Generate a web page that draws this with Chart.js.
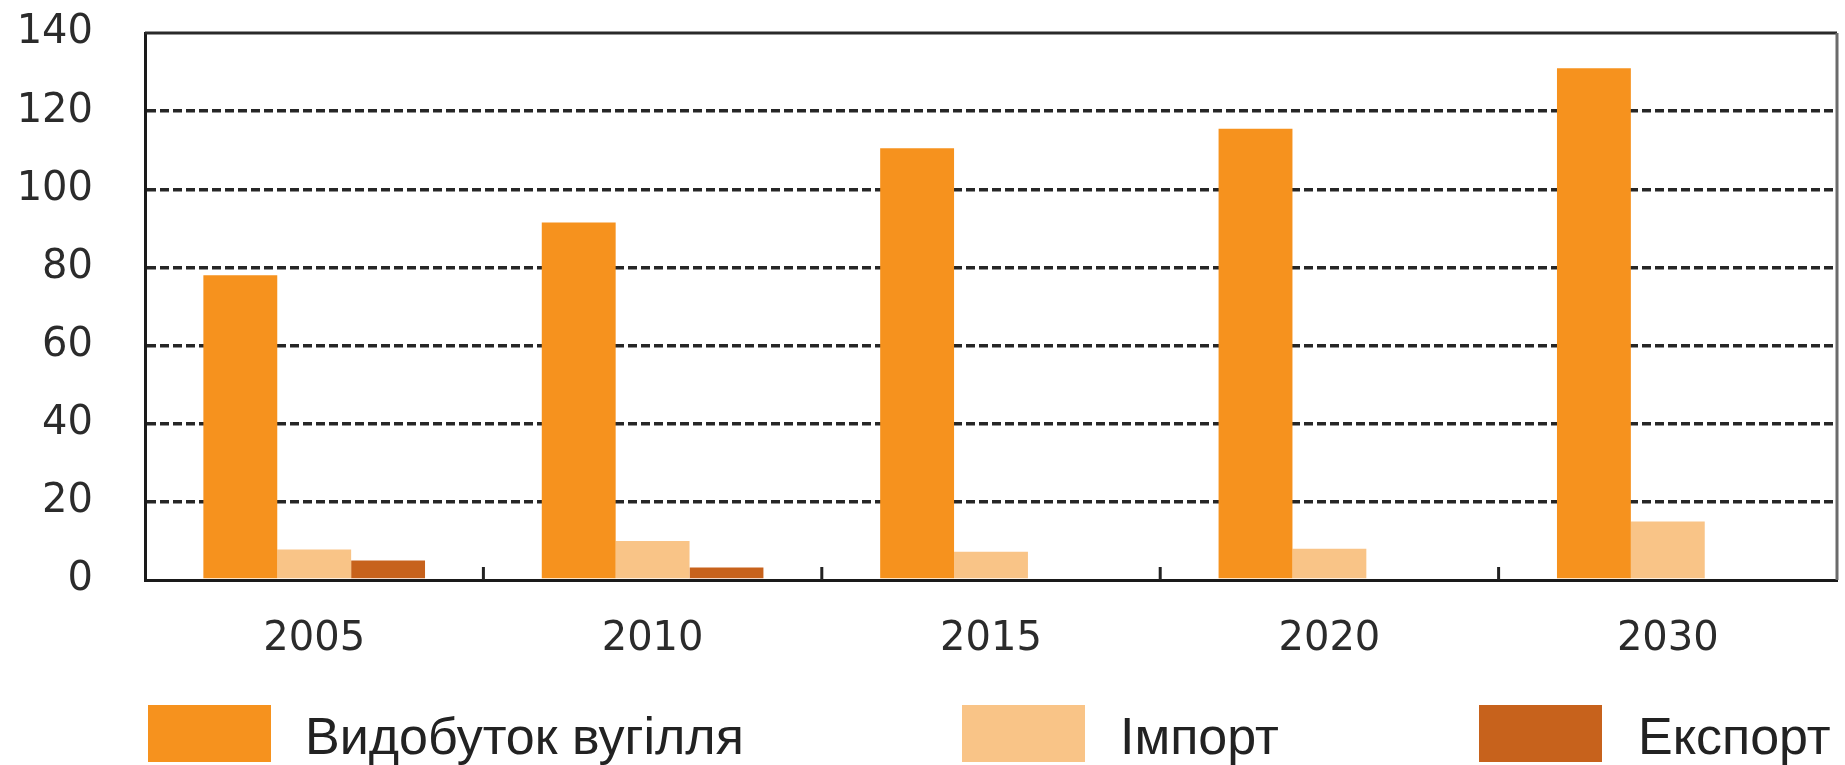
<!DOCTYPE html>
<html>
<head>
<meta charset="utf-8">
<script src="https://cdn.jsdelivr.net/npm/chart.js@4.4.1/dist/chart.umd.min.js"></script>
<style>
  html, body { margin: 0; padding: 0; background: #fff; }
  #wrap { position: relative; width: 1845px; height: 765px; }
  #legend { position: absolute; left: 0; top: 0; width: 1845px; height: 765px; pointer-events: none; }
  .box { position: absolute; top: 705px; width: 123px; height: 57px; }
  .lbl { position: absolute; top: 708px; font: 52px "Liberation Sans", Arial, sans-serif; line-height: 57px; color: #222; white-space: nowrap; }
</style>
</head>
<body>
<div id="wrap">
  <canvas id="coalChart" width="1845" height="765"></canvas>
  <div id="legend"></div>
</div>
<script>
"use strict";
const years = ["2005", "2010", "2015", "2020", "2030"];
const production = [78, 91.5, 110.5, 115.5, 131];
const imports = [7.8, 10, 7.2, 8, 15];
const exports = [5, 3.2, 0, 0, 0];
const seriesNames = ["Видобуток вугілля", "Імпорт", "Експорт"];
const seriesColors = ["#f6921e", "#f9c487", "#c7621c"];
const yTicks = [0, 20, 40, 60, 80, 100, 120, 140];

// legend drawn as html, positions picked to match the original
const legendSpots = [
  { box: 148, text: 305 },
  { box: 962, text: 1120 },
  { box: 1479, text: 1638 },
];
const legend = document.getElementById("legend");
seriesNames.forEach((name, i) => {
  const b = document.createElement("div");
  b.className = "box";
  b.style.left = legendSpots[i].box + "px";
  b.style.background = seriesColors[i];
  legend.appendChild(b);
  const t = document.createElement("div");
  t.className = "lbl";
  t.style.left = legendSpots[i].text + "px";
  t.textContent = name;
  legend.appendChild(t);
});

// frame top/right + little ticks between the year groups
const frameAndTicks = {
  id: "frameAndTicks",
  afterDatasetsDraw(chart) {
    const { ctx, chartArea: a, scales } = chart;
    ctx.save();
    ctx.lineWidth = 3;
    ctx.strokeStyle = "#2a2a2a";
    ctx.beginPath();
    ctx.moveTo(a.left, a.top);
    ctx.lineTo(a.right, a.top);
    ctx.stroke();
    ctx.strokeStyle = "#6b6b6b";
    ctx.beginPath();
    ctx.moveTo(a.right, a.top);
    ctx.lineTo(a.right, a.bottom);
    ctx.stroke();
    ctx.strokeStyle = "#222";
    for (let i = 1; i < years.length; i++) {
      const x = (scales.x.getPixelForValue(i - 1) + scales.x.getPixelForValue(i)) / 2;
      ctx.beginPath();
      ctx.moveTo(x, a.bottom);
      ctx.lineTo(x, a.bottom - 13);
      ctx.stroke();
    }
    ctx.restore();
  },
};

const data = {
  labels: years,
  datasets: [
    { label: seriesNames[0], data: production, backgroundColor: seriesColors[0] },
    { label: seriesNames[1], data: imports, backgroundColor: seriesColors[1] },
    { label: seriesNames[2], data: exports, backgroundColor: seriesColors[2] },
  ],
};

const config = {
  type: "bar",
  data: data,
  options: {
    responsive: false,
    animation: false,
    categoryPercentage: 0.655,
    barPercentage: 1.0,
    layout: { padding: { top: 33, right: 8, bottom: 65, left: 0 } },
    plugins: {
      legend: { display: false },
      tooltip: { enabled: false },
    },
    scales: {
      x: {
        grid: { display: false, drawTicks: false },
        border: { display: true, color: "#1a1a1a", width: 3 },
        ticks: {
          padding: 36,
          color: "#2b2b2b",
          font: { family: "DejaVu Sans", size: 40 },
        },
      },
      y: {
        min: 0,
        max: 140,
        afterFit(scale) {
          scale.width = 145;
        },
        afterBuildTicks(scale) {
          scale.ticks = yTicks.map((v) => ({ value: v }));
        },
        grid: {
          drawTicks: true,
          tickLength: 50,
          tickColor: "rgba(0,0,0,0)",
          lineWidth: 3.5,
          color: (c) => (c.tick && (c.tick.value === 0 || c.tick.value === 140) ? "rgba(0,0,0,0)" : "#262626"),
        },
        border: { display: true, color: "#1a1a1a", width: 3, dash: [9, 4] },
        ticks: {
          padding: 2,
          color: "#2b2b2b",
          font: { family: "DejaVu Sans", size: 40 },
        },
      },
    },
  },
  plugins: [frameAndTicks],
};

const coalChart = new Chart(document.getElementById("coalChart"), config);
</script>
</body>
</html>
